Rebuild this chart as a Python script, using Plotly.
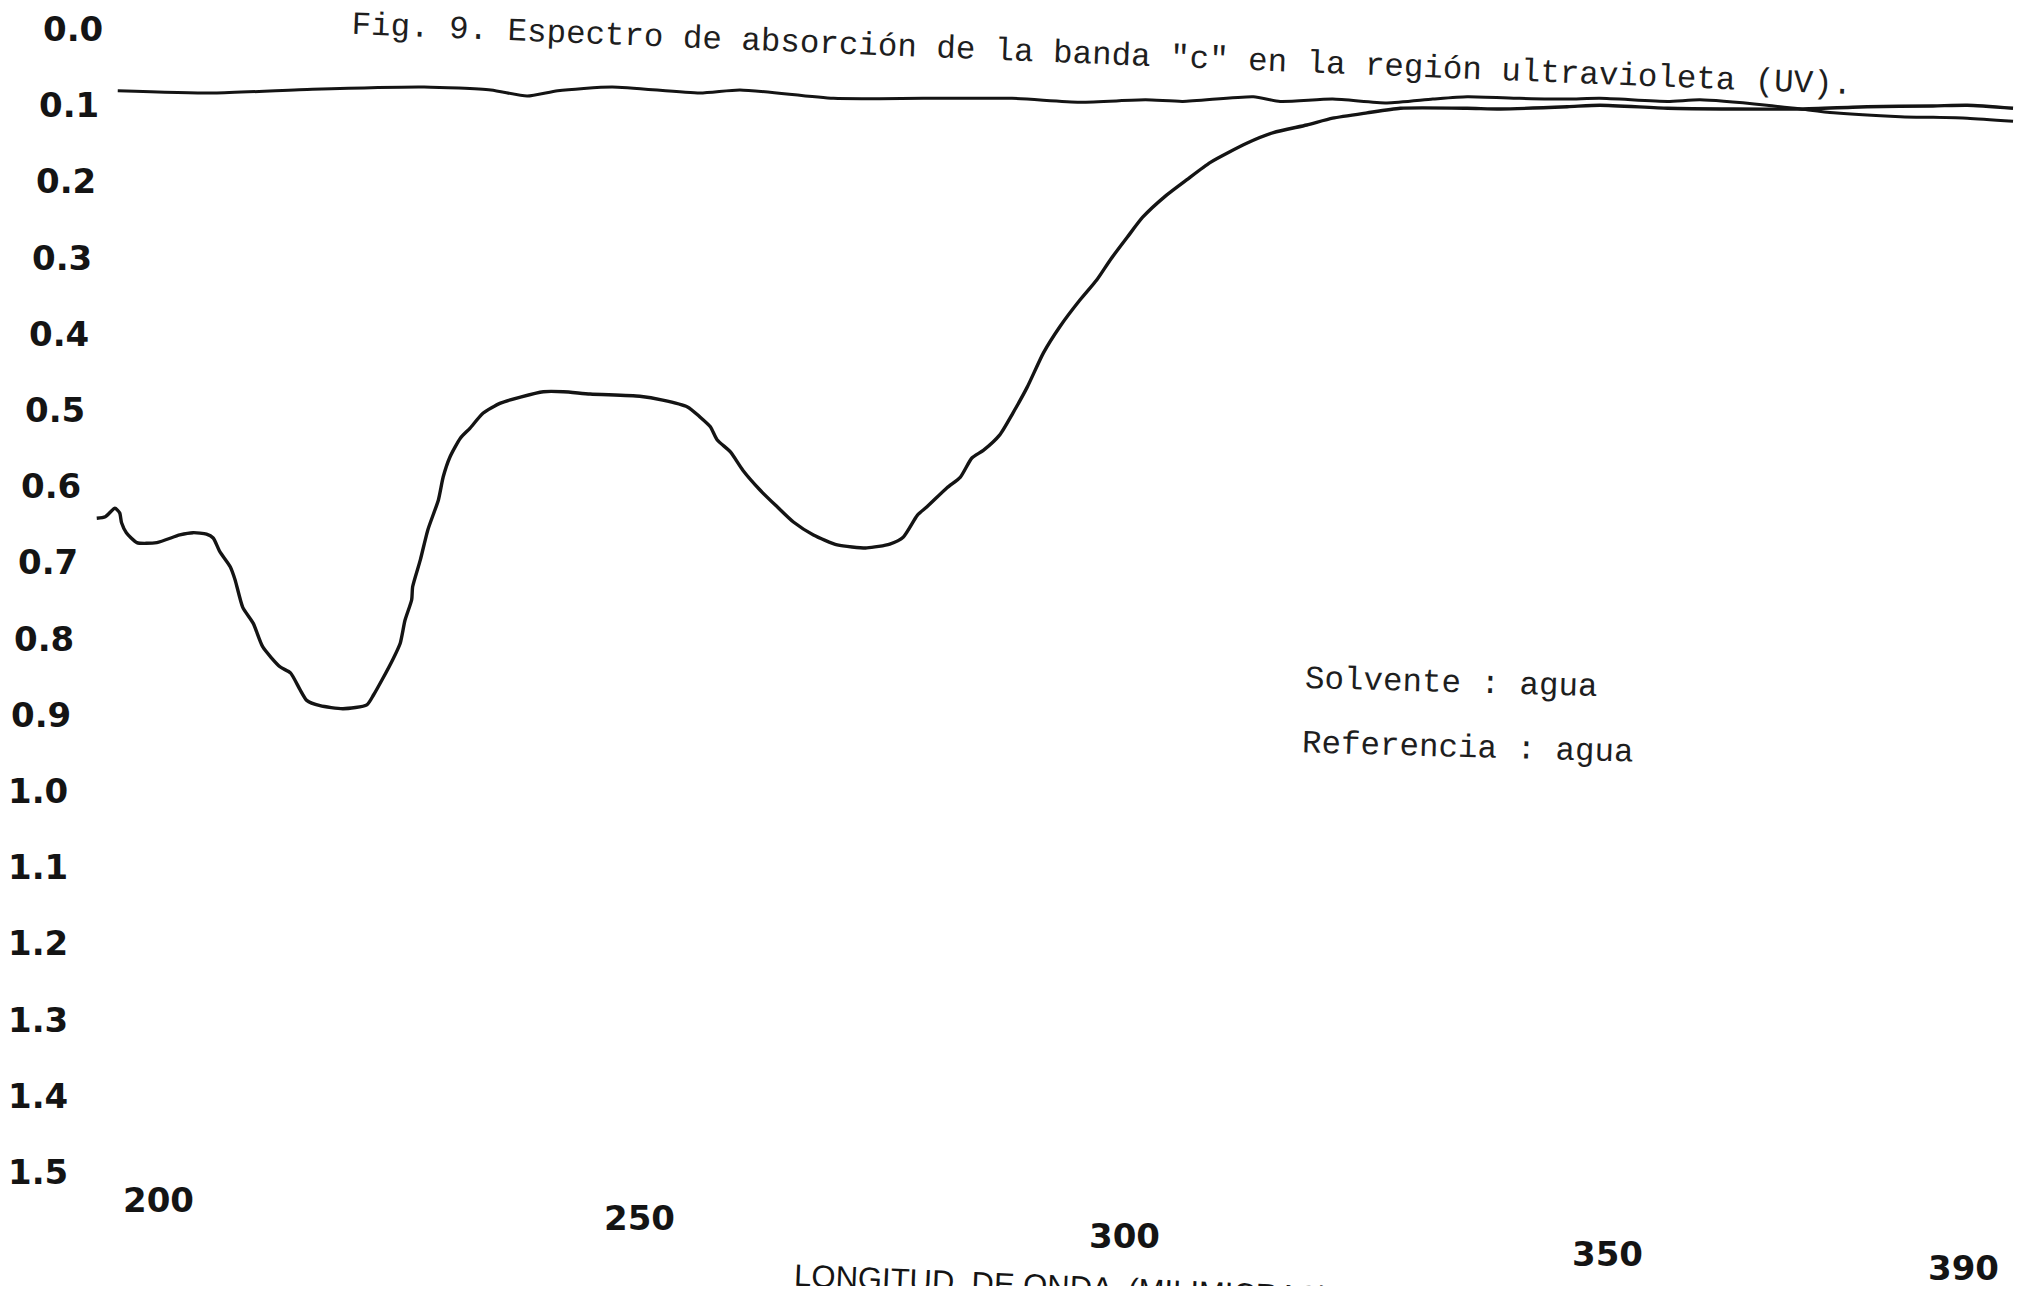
import plotly.graph_objects as go

# ---- data ----
sample_wl = [193.0, 193.9, 194.9, 195.4, 195.6, 196.1, 197.2, 199.3, 201.7, 203.1,
             204.5, 205.2, 205.9, 207.0, 207.5, 208.3, 209.4, 210.4, 212.2, 213.3,
             214.3, 215.0, 216.4, 218.8, 221.3, 222.0, 222.9, 224.0, 224.8, 225.3,
             226.0, 226.1, 226.9, 227.7, 228.8, 229.3, 230.0, 231.1, 232.1, 233.5,
             235.3, 237.4, 239.8, 241.9, 244.7, 249.9, 252.3, 254.9, 256.2, 257.3,
             258.0, 259.4, 260.7, 262.5, 264.3, 266.0, 268.1, 270.6, 273.7, 276.1,
             277.5, 279.0, 280.0, 282.1, 283.5, 284.7, 285.9, 287.6, 289.0, 290.5,
             292.2, 293.9, 296.0, 297.8, 299.2, 301.0, 302.6, 305.1, 307.2, 309.7,
             313.5, 316.3, 319.8, 322.5, 326.1, 329.6, 336.6, 340.1, 347.1, 350.5,
             357.6, 364.5, 371.5, 378.5, 385.4, 389.0, 393.8]
sample_abs = [0.642, 0.640, 0.629, 0.635, 0.648, 0.661, 0.674, 0.674, 0.664, 0.661,
              0.663, 0.668, 0.686, 0.706, 0.723, 0.759, 0.780, 0.811, 0.837, 0.845,
              0.867, 0.881, 0.888, 0.892, 0.887, 0.874, 0.854, 0.828, 0.806, 0.776,
              0.749, 0.732, 0.697, 0.657, 0.618, 0.588, 0.562, 0.537, 0.524, 0.504,
              0.491, 0.483, 0.476, 0.476, 0.479, 0.482, 0.487, 0.496, 0.509, 0.522,
              0.539, 0.555, 0.579, 0.605, 0.627, 0.647, 0.664, 0.677, 0.681, 0.676,
              0.667, 0.638, 0.627, 0.602, 0.588, 0.563, 0.553, 0.533, 0.504, 0.470,
              0.425, 0.391, 0.356, 0.329, 0.303, 0.273, 0.247, 0.218, 0.198, 0.175,
              0.150, 0.136, 0.126, 0.117, 0.110, 0.104, 0.104, 0.105, 0.102, 0.100,
              0.104, 0.105, 0.105, 0.102, 0.101, 0.100, 0.104]

baseline_wl = [195.2, 205.3, 215.6, 227.3, 234.3, 238.1, 241.3, 247.0, 256.2, 260.4,
               270.2, 279.6, 288.9, 296.0, 302.9, 306.8, 314.2, 317.0, 322.5, 328.2,
               333.0, 336.6, 342.1, 347.1, 350.5, 357.6, 361.0, 368.0, 371.5, 375.0,
               382.0, 389.0, 393.8]
baseline_abs = [0.081, 0.084, 0.079, 0.076, 0.080, 0.088, 0.081, 0.076, 0.084, 0.080,
                0.091, 0.091, 0.091, 0.096, 0.093, 0.095, 0.089, 0.095, 0.092, 0.097,
                0.092, 0.089, 0.091, 0.092, 0.091, 0.095, 0.093, 0.100, 0.105, 0.110,
                0.115, 0.117, 0.121]

y_tick_vals = [0.0, 0.1, 0.2, 0.3, 0.4, 0.5, 0.6, 0.7, 0.8, 0.9, 1.0, 1.1, 1.2, 1.3, 1.4, 1.5]
y_tick_text = ["0.0", "0.1", "0.2", "0.3", "0.4", "0.5", "0.6", "0.7", "0.8", "0.9",
               "1.0", "1.1", "1.2", "1.3", "1.4", "1.5"]
x_tick_vals = [200, 250, 300, 350, 390]
x_tick_text = ["200", "250", "300", "350", "390"]

title_text = 'Fig. 9. Espectro de absorción de la banda "c" en la región ultravioleta (UV).'
note_lines = ["Solvente : agua", "Referencia : agua"]
x_title = "LONGITUD  DE ONDA  (MILIMICRAS)"

# ---- layout geometry (page body has an 8 px margin, so the figure is 16 px smaller) ----
PAGE_MARGIN = 8
PW, PH = 2012, 1278
INK = "#141414"
X_LABEL_NUDGE = [-4.6, -1.7, 7.1, 12.0, -12.8]   # px, hand-set label placement on the scan


def px(x_page):
    return (x_page - PAGE_MARGIN) / PW


def py(y_page):
    return 1 - (y_page - PAGE_MARGIN) / PH


fig = go.Figure()
fig.add_trace(go.Scatter(x=baseline_wl, y=baseline_abs, mode="lines",
                         line=dict(color=INK, width=3.0, shape="spline", smoothing=0.6),
                         hoverinfo="skip", showlegend=False))
fig.add_trace(go.Scatter(x=sample_wl, y=sample_abs, mode="lines",
                         line=dict(color=INK, width=3.4, shape="spline", smoothing=0.6),
                         hoverinfo="skip", showlegend=False))

annotations = []
label_font = dict(family="DejaVu Sans", size=34, color=INK, weight="bold")

# y tick labels: the scan is slightly skewed, the label column drifts left going down
for v, t in zip(y_tick_vals, y_tick_text):
    right_edge = max(105 - 36 * v, 70)
    annotations.append(dict(text=t, x=px(right_edge), xref="paper", xanchor="right",
                            y=v, yref="y", yanchor="middle", showarrow=False,
                            font=label_font))

# x tick labels: drift downward to the right
for v, t, dx in zip(x_tick_vals, x_tick_text, X_LABEL_NUDGE):
    annotations.append(dict(text=t, x=v, xref="x", xanchor="center", xshift=dx,
                            y=py(1200 + 0.36 * (v - 200)), yref="paper", yanchor="middle",
                            showarrow=False, font=label_font))

mono = dict(family="Liberation Mono", size=32.5, color="#1e1e1e")
annotations.append(dict(text=title_text, x=px(1102), y=py(56), xref="paper", yref="paper",
                        xanchor="center", yanchor="middle", textangle=2.3,
                        showarrow=False, font=mono))
annotations.append(dict(text=note_lines[0], x=px(1451), y=py(683), xref="paper", yref="paper",
                        xanchor="center", yanchor="middle", textangle=1.6,
                        showarrow=False, font=mono))
annotations.append(dict(text=note_lines[1], x=px(1468), y=py(748), xref="paper", yref="paper",
                        xanchor="center", yanchor="middle", textangle=1.6,
                        showarrow=False, font=mono))
annotations.append(dict(text=x_title, x=px(1062), y=py(1287), xref="paper", yref="paper",
                        xanchor="center", yanchor="middle", textangle=2.4,
                        showarrow=False,
                        font=dict(family="Liberation Sans", size=31, color=INK)))

# axis ranges: scan calibration  x_page = 163.6 + 9.543*(nm-200),  y_page = 29 + 762*A
fig.update_layout(
    width=PW, height=PH,
    margin=dict(l=0, r=0, t=0, b=0),
    paper_bgcolor="white", plot_bgcolor="white",
    xaxis=dict(range=[183.70, 394.53], visible=False, fixedrange=True),
    yaxis=dict(range=[1.6496, -0.02756], visible=False, fixedrange=True),
    annotations=annotations,
    showlegend=False,
)

fig.write_html("out.html")
